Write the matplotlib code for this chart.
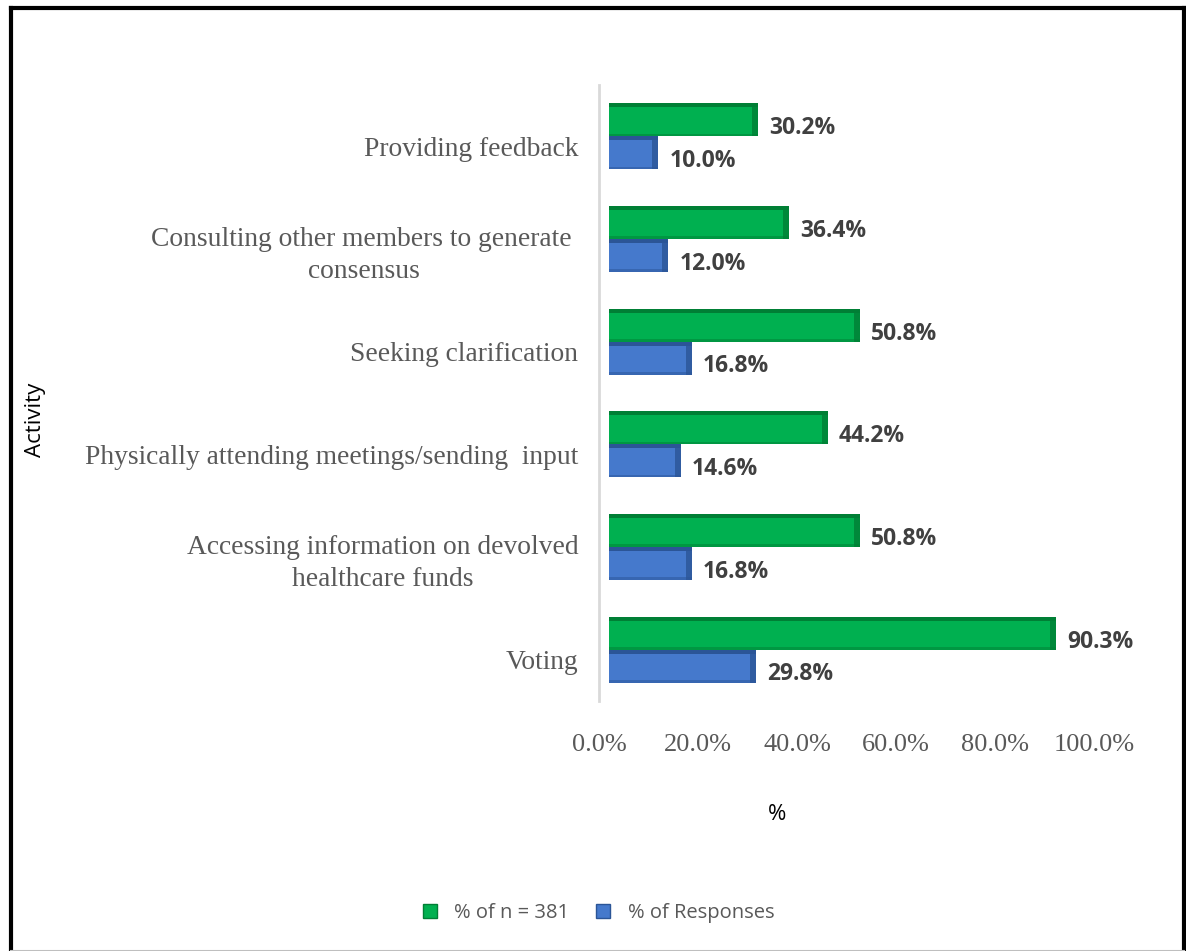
import matplotlib.pyplot as plt
import matplotlib.transforms as mtransforms
from matplotlib.lines import Line2D
import numpy as np

activities = [
    "Voting",
    "Accessing information on devolved\nhealthcare funds",
    "Physically attending meetings/sending  input",
    "Seeking clarification",
    "Consulting other members to generate \nconsensus",
    "Providing feedback",
]
pct_of_n = [90.3, 50.8, 44.2, 50.8, 36.4, 30.2]
pct_of_responses = [29.8, 16.8, 14.6, 16.8, 12.0, 10.0]
xticks = [0, 20, 40, 60, 80, 100]
series_names = ["% of n = 381", "% of Responses"]

green, green_dark = "#00B050", "#007F35"
blue, blue_dark = "#4579CC", "#2B5597"
label_grey = "#595959"

fig = plt.figure(figsize=(11.86, 9.51), dpi=100)
ax = fig.add_axes([599 / 1186, 1 - 701 / 951, (1094 - 599) / 1186, (701 - 85) / 951])

y = np.arange(len(activities))
h = 0.32

# shift bars right a little, like the depth of a 3-D bar
shift = mtransforms.ScaledTranslation(7 / 72, 0, fig.dpi_scale_trans)
bar_tr = ax.transData + shift

for vals, yy, face, dark in [(pct_of_n, y + h / 2, green, green_dark),
                             (pct_of_responses, y - h / 2, blue, blue_dark)]:
    ax.barh(yy, vals, height=h, color=face, linewidth=0, transform=bar_tr, zorder=3)
    # dark rim along the top and bottom
    ax.barh(yy + h * 0.44, vals, height=h * 0.12, color=dark, linewidth=0,
            transform=bar_tr, zorder=4)
    ax.barh(yy - h * 0.46, vals, height=h * 0.08, color=dark, alpha=0.5, linewidth=0,
            transform=bar_tr, zorder=4)
    # darker end cap
    ax.barh(yy, [1.2] * len(vals), left=np.array(vals) - 1.2, height=h,
            color=dark, alpha=0.8, linewidth=0, transform=bar_tr, zorder=4)

label_tr = ax.transData + mtransforms.ScaledTranslation(15 / 72, -6 / 72, fig.dpi_scale_trans)
for i in range(len(activities)):
    ax.text(pct_of_n[i], y[i] + h / 2, f"{pct_of_n[i]:.1f}%", transform=label_tr,
            ha="left", va="center", fontsize=16.5, fontweight="bold",
            family="Open Sans", color="#404040")
    ax.text(pct_of_responses[i], y[i] - h / 2, f"{pct_of_responses[i]:.1f}%",
            transform=label_tr, ha="left", va="center", fontsize=16.5,
            fontweight="bold", family="Open Sans", color="#404040")

ax.set_xlim(0, 100)
ax.set_ylim(-0.5, len(activities) - 0.5)
ax.set_xticks(xticks)
ax.set_xticklabels([f"{t:.1f}%" for t in xticks], family="Liberation Serif",
                   fontsize=19, color=label_grey)
ax.set_yticks(y)
ax.set_yticklabels(activities, family="Liberation Serif", fontsize=19.8,
                   color=label_grey, ha="right", multialignment="center",
                   linespacing=1.38)
ax.tick_params(axis="y", length=0, pad=15)
ax.tick_params(axis="x", length=0, pad=24)
down = mtransforms.ScaledTranslation(0, -7 / 72, fig.dpi_scale_trans)
for lbl in ax.get_yticklabels():
    lbl.set_transform(lbl.get_transform() + down)
for s in ["top", "right", "bottom"]:
    ax.spines[s].set_visible(False)
ax.spines["left"].set_color("#D9D9D9")
ax.spines["left"].set_linewidth(2)

fig.text(36 / 1186, 1 - 420 / 951, "Activity", rotation=90, ha="center", va="center",
         fontsize=16, family="Open Sans", color="black")
fig.text(777 / 1186, 1 - 815 / 951, "%", ha="center", va="center",
         fontsize=16, family="Open Sans", color="black")

handles = [Line2D([], [], marker="s", linestyle="none", markersize=10,
                  markerfacecolor=green, markeredgecolor=green_dark),
           Line2D([], [], marker="s", linestyle="none", markersize=10,
                  markerfacecolor=blue, markeredgecolor=blue_dark)]
leg = fig.legend(handles, series_names, loc="center", bbox_to_anchor=(592 / 1186, 1 - 913 / 951),
                 ncol=2, frameon=False, handletextpad=0.2, columnspacing=0.7,
                 prop={"family": "Open Sans", "size": 14.5})
for t in leg.get_texts():
    t.set_color(label_grey)

# outer frame
frame_kw = dict(transform=fig.transFigure, clip_on=False)
fig.add_artist(Line2D([11 / 1186, 1184 / 1186], [1 - 8 / 951, 1 - 8 / 951], color="black", lw=3, **frame_kw))
fig.add_artist(Line2D([11 / 1186, 11 / 1186], [1 - 8 / 951, 0], color="black", lw=3, **frame_kw))
fig.add_artist(Line2D([1184 / 1186, 1184 / 1186], [1 - 8 / 951, 0], color="black", lw=3, **frame_kw))
fig.add_artist(Line2D([11 / 1186, 1184 / 1186], [0.5 / 951, 0.5 / 951], color="#BFBFBF", lw=1.5, **frame_kw))

fig.savefig("out.png", dpi=100, facecolor="white")
